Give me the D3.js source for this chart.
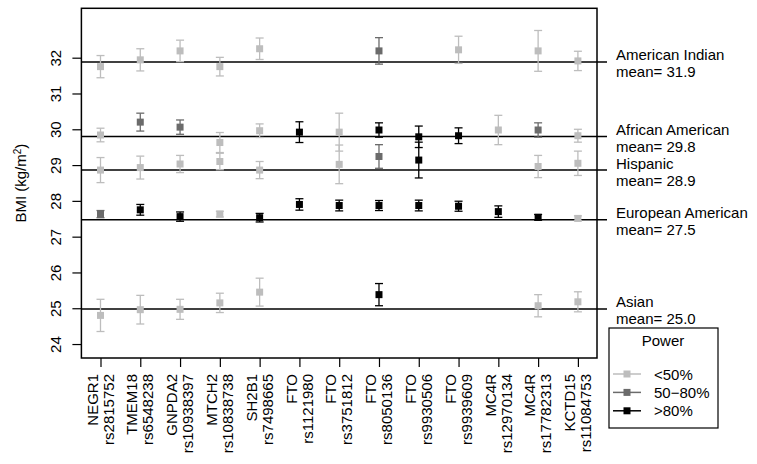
<!DOCTYPE html>
<html>
<head>
<meta charset="utf-8">
<script src="https://cdn.jsdelivr.net/npm/d3@7"></script>
<style>
  body { margin: 0; background: #fff; }
  svg text { font-family: "Liberation Sans", Arial, sans-serif; }
</style>
</head>
<body>
<div id="viz"><svg></svg></div>
<script>
const fullWidth = 757;
const fullHeight = 464;

// plot box in pixels
const box = { left: 81.4, right: 597, top: 8.3, bottom: 358 };

const genes = ['NEGR1', 'TMEM18', 'GNPDA2', 'MTCH2', 'SH2B1', 'FTO', 'FTO', 'FTO', 'FTO', 'FTO', 'MC4R', 'MC4R', 'KCTD15'];
const snps = ['rs2815752', 'rs6548238', 'rs10938397', 'rs10838738', 'rs7498665', 'rs1121980', 'rs3751812',
  'rs8050136', 'rs9930506', 'rs9939609', 'rs12970134', 'rs17782313', 'rs11084753'];

const populations = ['American Indian', 'African American', 'Hispanic', 'European American', 'Asian'];
const popMeans = [31.88, 29.8, 28.86, 27.47, 24.98];

const yTicks = [24, 25, 26, 27, 28, 29, 30, 31, 32];

const powerLabels = ['<50%', '50\u221280%', '>80%'];
const powerColors = ['#bdbdbd', '#6b6b6b', '#000000'];

// per population: estimated BMI, half-width of the interval, power class (0,1,2)
const aiBMI = [31.75, 31.94, 32.19, 31.75, 32.25, null, null, 32.19, null, 32.22, null, 32.19, 31.91];
const aiErr = [0.31, 0.31, 0.30, 0.26, 0.30, null, null, 0.37, null, 0.38, null, 0.57, 0.27];
const aiPow = [0, 0, 0, 0, 0, null, null, 1, null, 0, null, 0, 0];

const aaBMI = [29.84, 30.2, 30.06, 29.63, 29.96, 29.92, 29.92, 29.98, 29.79, 29.82, 29.98, 29.98, 29.82];
const aaErr = [0.19, 0.25, 0.20, 0.28, 0.19, 0.29, 0.53, 0.20, 0.30, 0.22, 0.41, 0.20, 0.18];
const aaPow = [0, 1, 1, 0, 0, 2, 0, 2, 2, 2, 0, 1, 0];

const hiBMI = [28.86, 28.93, 29.03, 29.1, 28.86, null, 29.02, 29.24, 29.14, null, null, 28.96, 29.05];
const hiErr = [0.35, 0.32, 0.24, 0.23, 0.24, null, 0.54, 0.33, 0.5, null, null, 0.31, 0.34];
const hiPow = [0, 0, 0, 0, 0, null, 0, 1, 2, null, null, 0, 0];

const euBMI = [27.63, 27.75, 27.56, 27.63, 27.53, 27.9, 27.87, 27.87, 27.87, 27.85, 27.7, 27.54, 27.51];
const euErr = [0.10, 0.15, 0.13, 0.08, 0.12, 0.16, 0.15, 0.14, 0.15, 0.14, 0.16, 0.08, 0.07];
const euPow = [1, 2, 2, 0, 2, 2, 2, 2, 2, 2, 2, 2, 0];

const asBMI = [24.8, 24.96, 24.97, 25.15, 25.45, null, null, 25.38, null, null, null, 25.07, 25.18];
const asErr = [0.45, 0.40, 0.28, 0.27, 0.39, null, null, 0.31, null, null, null, 0.31, 0.28];
const asPow = [0, 0, 0, 0, 0, null, null, 2, null, null, null, 0, 0];

const series = [
  [aiBMI, aiErr, aiPow],
  [aaBMI, aaErr, aaPow],
  [hiBMI, hiErr, hiPow],
  [euBMI, euErr, euPow],
  [asBMI, asErr, asPow]
];

let points = [];
series.forEach(s => {
  s[0].forEach((v, i) => {
    if (v == null) return;
    points.push({ i: i, bmi: v, err: s[1][i], power: s[2][i] });
  });
});

const svg = d3.select('#viz svg')
  .attr('width', fullWidth)
  .attr('height', fullHeight);

const x = d3.scaleLinear()
  .domain([-0.48, genes.length - 1 + 0.48])
  .range([box.left, box.right]);

const y = d3.scaleLinear()
  .domain([23.61, 33.38])
  .range([box.bottom, box.top]);

// y axis
const yAxis = svg.append('g')
  .attr('transform', `translate(${box.left},0)`)
  .call(d3.axisLeft(y).tickValues(yTicks).tickSize(9).tickFormat(d3.format('d')));
yAxis.select('.domain').remove();
yAxis.selectAll('line').attr('stroke', '#000').attr('stroke-width', 1.2);
yAxis.selectAll('text')
  .attr('x', null).attr('dy', null)
  .attr('transform', 'translate(-20,0) rotate(-90)')
  .attr('text-anchor', 'middle')
  .attr('font-size', 15)
  .attr('font-family', '"Liberation Sans", Arial, sans-serif')
  .attr('fill', '#000');

// x axis
const xAxis = svg.append('g')
  .attr('transform', `translate(0,${box.bottom})`)
  .call(d3.axisBottom(x).tickValues(d3.range(genes.length)).tickSize(9).tickFormat(''));
xAxis.select('.domain').remove();
xAxis.selectAll('line').attr('stroke', '#000').attr('stroke-width', 1.2);

const xLabels = svg.append('g');
genes.forEach((g, i) => {
  xLabels.append('text')
    .attr('transform', `translate(${x(i) - 2.8},374) rotate(-90)`)
    .attr('text-anchor', 'end')
    .attr('font-size', 15)
    .text(g);
  xLabels.append('text')
    .attr('transform', `translate(${x(i) + 13.2},374) rotate(-90)`)
    .attr('text-anchor', 'end')
    .attr('font-size', 15)
    .text(snps[i]);
});

// y title
const yTitle = svg.append('text')
  .attr('transform', `translate(26,${(box.top + box.bottom) / 2}) rotate(-90)`)
  .attr('text-anchor', 'middle')
  .attr('font-size', 15);
yTitle.append('tspan').text('BMI (kg/m');
yTitle.append('tspan').attr('baseline-shift', 'super').attr('font-size', 10).text('2');
yTitle.append('tspan').text(')');

// mean lines and labels
const means = svg.append('g');
popMeans.forEach((m, k) => {
  means.append('line')
    .attr('x1', box.left).attr('x2', 607)
    .attr('y1', y(m)).attr('y2', y(m))
    .attr('stroke', '#000').attr('stroke-width', 1.5);
  means.append('text')
    .attr('x', 616).attr('y', y(m) - 1.5)
    .attr('font-size', 15)
    .text(populations[k]);
  means.append('text')
    .attr('x', 616).attr('y', y(m) + 15.5)
    .attr('font-size', 15)
    .text('mean= ' + m.toFixed(1));
});

// error bars
const marks = svg.append('g');
const capW = 4;
const sq = 7;

const bars = marks.selectAll('g.pt')
  .data(points)
  .enter().append('g')
  .attr('class', 'pt');

bars.append('line')
  .attr('x1', d => x(d.i)).attr('x2', d => x(d.i))
  .attr('y1', d => y(d.bmi - d.err)).attr('y2', d => y(d.bmi + d.err));
bars.append('line')
  .attr('x1', d => x(d.i) - capW).attr('x2', d => x(d.i) + capW)
  .attr('y1', d => y(d.bmi + d.err)).attr('y2', d => y(d.bmi + d.err));
bars.append('line')
  .attr('x1', d => x(d.i) - capW).attr('x2', d => x(d.i) + capW)
  .attr('y1', d => y(d.bmi - d.err)).attr('y2', d => y(d.bmi - d.err));
bars.selectAll('line')
  .attr('stroke', function () { return powerColors[d3.select(this.parentNode).datum().power]; })
  .attr('stroke-width', 1.3);
bars.append('rect')
  .attr('x', d => x(d.i) - sq / 2)
  .attr('y', d => y(d.bmi) - sq / 2)
  .attr('width', sq).attr('height', sq)
  .attr('fill', d => powerColors[d.power]);

// plot frame
svg.append('rect')
  .attr('x', box.left).attr('y', box.top)
  .attr('width', box.right - box.left).attr('height', box.bottom - box.top)
  .attr('fill', 'none').attr('stroke', '#000').attr('stroke-width', 1.5);

// legend
const legend = svg.append('g');
legend.append('rect')
  .attr('x', 609).attr('y', 328).attr('width', 109).attr('height', 100)
  .attr('fill', '#fff').attr('stroke', '#000').attr('stroke-width', 1.2);
legend.append('text')
  .attr('x', 663).attr('y', 346)
  .attr('text-anchor', 'middle')
  .attr('font-size', 15)
  .text('Power');
powerLabels.forEach((lab, k) => {
  const cy = 374 + k * 18.4;
  legend.append('line')
    .attr('x1', 613).attr('x2', 641).attr('y1', cy).attr('y2', cy)
    .attr('stroke', powerColors[k]).attr('stroke-width', 1.5);
  legend.append('rect')
    .attr('x', 627 - 3.5).attr('y', cy - 3.5).attr('width', 7).attr('height', 7)
    .attr('fill', powerColors[k]);
  legend.append('text')
    .attr('x', 654).attr('y', cy + 5.5)
    .attr('font-size', 15)
    .text(lab);
});
</script>
</body>
</html>
